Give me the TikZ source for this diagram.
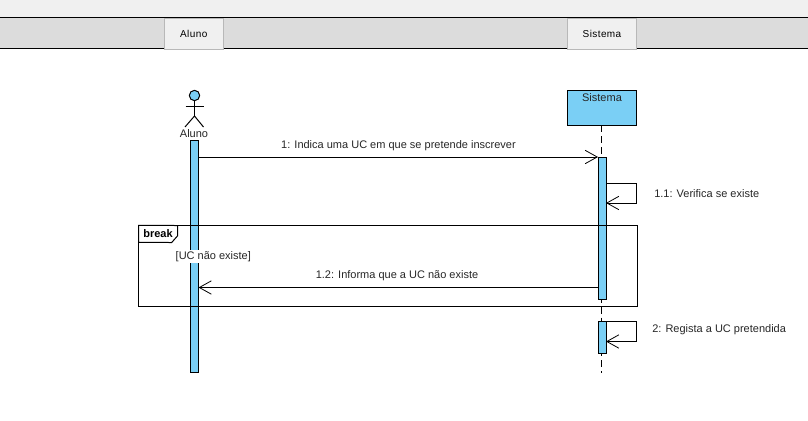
\documentclass[tikz,border=0pt]{standalone}
\usepackage{fontspec}
\setmainfont{Liberation Sans}
\usetikzlibrary{arrows.meta,calc}
\definecolor{sky}{HTML}{7ACFF5}
\definecolor{barc}{HTML}{DCDCDC}
\definecolor{tabc}{HTML}{F0F0F0}
\definecolor{tabe}{HTML}{B8B8B8}
\definecolor{txt}{HTML}{262626}
\tikzset{
  px/.style={x=0.75pt,y=-0.75pt},
  ln/.style={line width=0.75pt,black},
  bar/.style={draw=black,fill=sky,line width=0.75pt,minimum width=6pt,inner sep=0pt,outer sep=0pt},
  msg/.style={ln,-{Straight Barb[length=9pt,width=10pt,line width=0.6pt]}},
  life/.style={ln,dash pattern=on 5pt off 3pt},
  lbl/.style={font=\fontsize{8.25pt}{10pt}\selectfont,text=txt,inner sep=0pt},
  tabn/.style={draw=tabe,fill=tabc,line width=0.75pt,inner sep=0pt,outer sep=0pt,font=\fontsize{7.5pt}{9pt}\selectfont\addfontfeatures{LetterSpace=4},text=black}
}
\begin{document}
\begin{tikzpicture}[px]
\useasboundingbox (0,0) rectangle (808,421);
% top bars
\fill[tabc] (0,0) rectangle (808,17);
\fill[barc] (0,17) rectangle (808,48);
\draw[ln] (0,17.5) -- (808,17.5);
\draw[line width=1.1pt,black] (0,48.5) -- (808,48.5);
\node[tabn,minimum width=43.9pt,minimum height=23.25pt] (tabA) at (193.75,33.5) {Aluno};
\node[tabn,minimum width=51.5pt,minimum height=23.25pt] (tabS) at (602,33.5) {Sistema};
% actor
\node[circle,draw=black,fill=sky,line width=0.75pt,minimum size=7.8pt,inner sep=0pt,outer sep=0pt] (head) at (194.5,95.5) {};
\coordinate (hip) at (194.5,116);
\coordinate (armL) at (185.5,106.3);
\coordinate (armR) at (203.5,106.3);
\coordinate (legL) at (185,127);
\coordinate (legR) at (203.5,127);
\draw[ln] (head.south) -- (hip);
\draw[ln] (armL) -- (armR);
\draw[ln] (legL) -- (hip) -- (legR);
\node[lbl] (alunoLbl) at (194,133.5) {Aluno};
% sistema head
\node[draw=black,fill=sky,line width=0.75pt,minimum width=52pt,minimum height=26.25pt,inner sep=0pt,outer sep=0pt] (sysHead) at (602,108) {};
\node[lbl,anchor=north] (sysLbl) at (602,93.5) {Sistema};
% lifeline
\coordinate (lifeEnd) at (601.5,373);
\draw[life] (sysHead.south -| lifeEnd) -- (lifeEnd);
% activations
\node[bar,minimum height=174pt] (alunoBar) at (194.5,256) {};
\node[bar,minimum height=106.5pt] (sysBarA) at (602,228) {};
\node[bar,minimum height=24pt] (sysBarB) at (602,337) {};
% frame
\node[draw=black,line width=0.75pt,minimum width=374.25pt,minimum height=60.4pt,inner sep=0pt,outer sep=0pt] (frame) at (388,265.75) {};
\coordinate (fA) at ($(frame.north west)+(0,17)$);
\coordinate (fB) at (171.7,242.5);
\coordinate (fC) at (177.7,235.7);
\coordinate (fD) at (177.7,225.5);
\draw[ln,fill=white] (frame.north west) -- (fA) -- (fB) -- (fC) -- (fD) -- cycle;
\node[lbl,font=\fontsize{8.25pt}{10pt}\selectfont\bfseries,text=black] (brk) at (158,233.5) {break};
% guard
\node[fill=white,minimum width=57pt,minimum height=9.6pt,inner sep=0pt] (guardBg) at (213.3,256.3) {};
\node[lbl] (guard) at (213.3,256.5) {[UC não existe]};
% messages
\draw[msg] (alunoBar.east |- sysBarA.north) -- (sysBarA.north west);
\node[lbl] (m1) at (398.5,146) {1: Indica uma UC em que se pretende inscrever};
\coordinate (s1a) at (636.5,183);
\coordinate (s1b) at (636.5,203);
\draw[msg] (sysBarA.east |- s1a) -- (s1a) -- (s1b) -- (sysBarA.east |- s1b);
\node[lbl,anchor=west] (m11) at (654,193.5) {1.1: Verifica se existe};
\coordinate (r1) at (500,287.5);
\draw[msg] (sysBarA.west |- r1) -- (alunoBar.east |- r1);
\node[lbl] (m12) at (397,275.5) {1.2: Informa que a UC não existe};
\coordinate (s2b) at (636.5,341.5);
\draw[msg] (sysBarB.north east) -- (sysBarB.north east -| s2b) -- (s2b) -- (sysBarB.east |- s2b);
\node[lbl,anchor=west] (m2) at (652,329.5) {2: Regista a UC pretendida};
\end{tikzpicture}
\end{document}
